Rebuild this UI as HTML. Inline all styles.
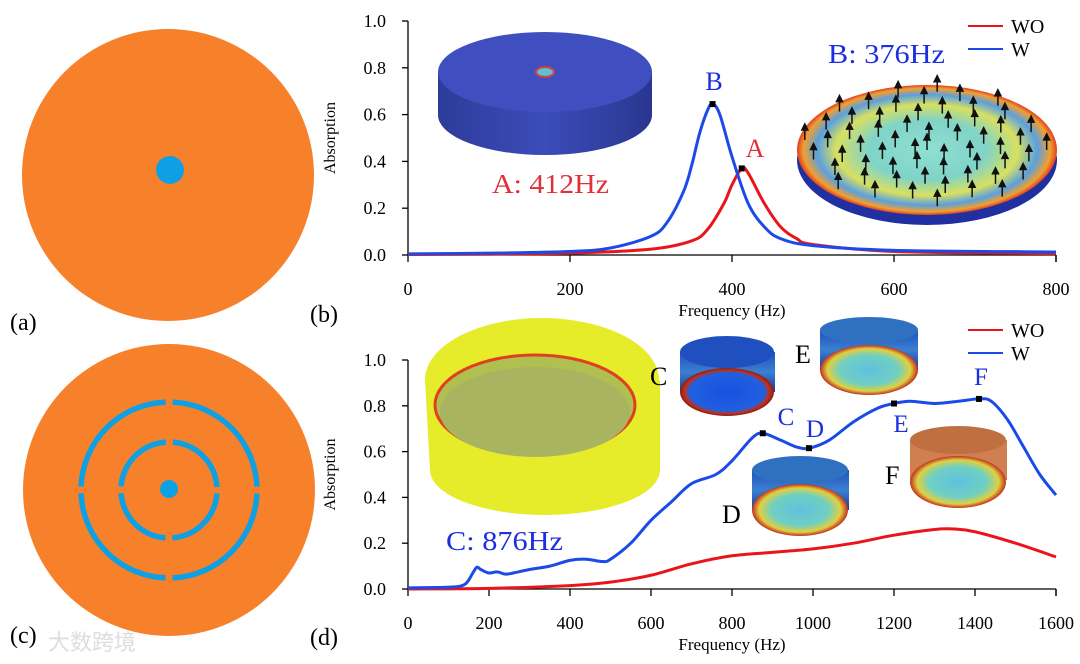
<!DOCTYPE html>
<html><head><meta charset="utf-8"><style>
html,body{margin:0;padding:0;background:#fff;}
svg{display:block;font-family:"Liberation Serif",serif;}
</style></head><body>
<svg id="fig" width="1080" height="664" viewBox="0 0 1080 664">
<defs>
<linearGradient id="cylSide" x1="0" x2="1"><stop offset="0" stop-color="#2d3c9a"/><stop offset="0.5" stop-color="#3a4cb8"/><stop offset="1" stop-color="#2a3690"/></linearGradient>
<radialGradient id="discTop"><stop offset="0" stop-color="#8fe0d0"/><stop offset="0.45" stop-color="#7fd3c8"/><stop offset="0.7" stop-color="#d8e060"/><stop offset="0.85" stop-color="#5aa0e0"/><stop offset="0.95" stop-color="#f0a030"/><stop offset="1" stop-color="#e04020"/></radialGradient>
<radialGradient id="smallTop"><stop offset="0" stop-color="#60c0e0"/><stop offset="0.6" stop-color="#70d0c0"/><stop offset="0.85" stop-color="#e0d040"/><stop offset="1" stop-color="#c03020"/></radialGradient>
<radialGradient id="smallTopC"><stop offset="0" stop-color="#1850e0"/><stop offset="0.8" stop-color="#2060e0"/><stop offset="0.9" stop-color="#c03020"/><stop offset="1" stop-color="#8a2010"/></radialGradient>
<linearGradient id="smallSide" x1="0" y1="0" x2="0" y2="1"><stop offset="0" stop-color="#2050c0"/><stop offset="0.5" stop-color="#3a80d0"/><stop offset="1" stop-color="#1a3aa0"/></linearGradient>
</defs>

<g>
<circle cx="168" cy="175" r="146" fill="#f7812b"/>
<circle cx="170" cy="170" r="14" fill="#0ea0e2"/>
<text x="10" y="330" font-size="24">(a)</text>
</g>
<g>
<circle cx="169" cy="490" r="146" fill="#f7812b"/>
<g fill="none" stroke="#0ea0e2" stroke-width="5.5">
<circle cx="169" cy="490" r="88" stroke-dasharray="131.2 7" stroke-dashoffset="-3.5"/>
<circle cx="169" cy="490" r="48" stroke-dasharray="68.4 7" stroke-dashoffset="-3.5"/>
</g>
<circle cx="169" cy="489" r="9" fill="#0ea0e2"/>
<text x="10" y="643" font-size="24">(c)</text>
<text x="48" y="650" font-size="22" fill="#ddd" font-family="'Liberation Sans','Noto Sans CJK SC',sans-serif">大数跨境</text>
</g>

<text x="310" y="322" font-size="24">(b)</text>
<text x="310" y="645" font-size="24">(d)</text>

<g>
<path d="M438,72 L438,115 A107,40 0 0 0 652,115 L652,72 Z" fill="url(#cylSide)"/>
<ellipse cx="545" cy="72" rx="107" ry="40" fill="#3f4fc0"/>
<ellipse cx="545" cy="72" rx="9" ry="5" fill="#60c0d0" stroke="#d04040" stroke-width="2"/>
</g>
<g>
<ellipse cx="927" cy="160" rx="130" ry="65" fill="#2030a0"/>
<ellipse cx="927" cy="150" rx="130" ry="65" fill="url(#discTop)"/>
<g stroke="#111" stroke-width="1.5" fill="#111" id="arrows"></g>
</g>

<g>
<path d="M425,380 L430,470 A115,45 0 0 0 660,470 L660,380 Z" fill="#e6ec2a"/>
<ellipse cx="542" cy="380" rx="117" ry="62" fill="#e6ec2a"/>
<ellipse cx="535" cy="405" rx="100" ry="50" fill="#b0c050" stroke="#e04020" stroke-width="3"/>
<ellipse cx="535" cy="412" rx="95" ry="45" fill="#a8b460"/>
</g>
<g>
<rect x="680" y="352" width="95" height="40" fill="url(#smallSide)"/><ellipse cx="727" cy="352" rx="47" ry="16" fill="#2050c0"/><ellipse cx="727" cy="392" rx="47" ry="24" fill="url(#smallTopC)"/></g>
<g>
<rect x="820" y="330" width="98" height="40" fill="url(#smallSide)"/><ellipse cx="869" cy="330" rx="49" ry="13" fill="#3070c0"/><ellipse cx="869" cy="370" rx="49" ry="25" fill="url(#smallTop)"/></g>
<g>
<rect x="752" y="470" width="97" height="40" fill="url(#smallSide)"/><ellipse cx="800" cy="470" rx="48" ry="14" fill="#3070c0"/><ellipse cx="800" cy="510" rx="48" ry="26" fill="url(#smallTop)"/></g>
<g>
<rect x="910" y="440" width="97" height="40" fill="#d08050"/><ellipse cx="958" cy="440" rx="48" ry="14" fill="#c07040"/><ellipse cx="958" cy="482" rx="48" ry="26" fill="url(#smallTop)"/></g>

<g id="charts"></g>
</svg>
<script>
// ---- chart (b) data ----
const topFreqW = [0,100,200,250,300,320,340,350,360,370,376,385,400,420,440,460,500,600,800];
const topW     = [0.005,0.008,0.015,0.03,0.08,0.14,0.27,0.38,0.52,0.62,0.645,0.60,0.42,0.22,0.12,0.07,0.04,0.02,0.013];
const topFreqWO = [0,100,200,300,350,370,390,400,412,420,440,460,480,500,600,800];
const topWO     = [0.002,0.004,0.008,0.025,0.06,0.11,0.22,0.30,0.37,0.35,0.22,0.12,0.07,0.045,0.015,0.006];
const topXTicks = [0,200,400,600,800];
const topYTicks = ["0.0","0.2","0.4","0.6","0.8","1.0"];
// ---- chart (d) data ----
const botFreqW = [0,100,140,160,170,180,200,220,240,260,300,350,400,440,480,500,550,600,650,700,760,800,850,876,920,960,990,1040,1100,1160,1200,1240,1300,1360,1410,1440,1480,1520,1560,1600];
const botW     = [0.005,0.008,0.02,0.07,0.095,0.085,0.07,0.075,0.065,0.07,0.085,0.10,0.125,0.13,0.12,0.13,0.20,0.30,0.38,0.46,0.50,0.56,0.66,0.68,0.65,0.62,0.615,0.65,0.73,0.79,0.81,0.82,0.81,0.82,0.83,0.82,0.74,0.62,0.50,0.41];
const botFreqWO = [0,200,400,500,600,700,800,900,1000,1100,1200,1300,1350,1400,1500,1600];
const botWO     = [0,0.003,0.015,0.03,0.06,0.11,0.145,0.16,0.175,0.20,0.235,0.26,0.262,0.25,0.20,0.14];
const botXTicks = [0,200,400,600,800,1000,1200,1400,1600];
const botYTicks = ["0.0","0.2","0.4","0.6","0.8","1.0"];
const botMarkers = [876,990,1200,1410];
const botMarkerLabels = ["C","D","E","F"];

const NS="http://www.w3.org/2000/svg";
const root=document.getElementById('charts');
function mk(tag,attrs,parent){const e=document.createElementNS(NS,tag);for(const k in attrs)e.setAttribute(k,attrs[k]);(parent||root).appendChild(e);return e;}
function smooth(pts){let d="M"+pts[0][0]+","+pts[0][1];for(let i=0;i<pts.length-1;i++){const p0=pts[Math.max(0,i-1)],p1=pts[i],p2=pts[i+1],p3=pts[Math.min(pts.length-1,i+2)];const c1=[p1[0]+(p2[0]-p0[0])/6,p1[1]+(p2[1]-p0[1])/6],c2=[p2[0]-(p3[0]-p1[0])/6,p2[1]-(p3[1]-p1[1])/6];d+=`C${c1[0]},${c1[1]} ${c2[0]},${c2[1]} ${p2[0]},${p2[1]}`;}return d;}

function chart(name,x0,x1,xmax,y0,y1,xticks,yticks,series,legendY){
  const g=mk('g',{});
  
  
  const sx=v=>x0+(x1-x0)*v/xmax, sy=v=>y0-(y0-y1)*v;
  const ax=mk('path',{d:`M${x0},${y1} L${x0},${y0} L${x1},${y0} M${x1},${y0} L${x1},${y0+7}`,stroke:'#000','stroke-width':1.3,fill:'none'},g);
  
  
  xticks.forEach(t=>{
    mk('line',{x1:sx(t),x2:sx(t),y1:y0,y2:y0+7,stroke:'#000','stroke-width':1.3},g);
    const tx=mk('text',{x:sx(t),y:y0+40,'font-size':18,'text-anchor':'middle'},g);tx.textContent=t;
    
    
  });
  yticks.forEach(t=>{
    const v=parseFloat(t);
    mk('line',{x1:x0-6,x2:x0,y1:sy(v),y2:sy(v),stroke:'#000','stroke-width':1.3},g);
    const tx=mk('text',{x:x0-22,y:sy(v)+6,'font-size':18,'text-anchor':'end'},g);tx.textContent=t;
    
    
  });
  const xt=mk('text',{x:(x0+x1)/2,y:y0+61,'font-size':17,'text-anchor':'middle'},g);xt.textContent='Frequency (Hz)';
  
  
  const yt=mk('text',{x:0,y:0,'font-size':16,'text-anchor':'middle',transform:`translate(${x0-73},${(y0+y1)/2}) rotate(-90)`},g);yt.textContent='Absorption';
  
  
  series.forEach(s=>{
    const p=mk('path',{d:smooth(s.f.map((f,i)=>[sx(f),sy(s.v[i])])),stroke:s.c,'stroke-width':3,fill:'none'},g);
    
    
  });
  series.forEach((s,i)=>{
    const ly=legendY+i*23;
    const l=mk('line',{x1:968,x2:1003,y1:ly,y2:ly,stroke:s.c,'stroke-width':2},g);
    
    
    const t=mk('text',{x:1011,y:ly+7,'font-size':20},g);t.textContent=s.n;
    
    
  });
  return {sx,sy,g};
}
function interp(fs,vs,f){for(let i=0;i<fs.length-1;i++){if(f>=fs[i]&&f<=fs[i+1])return vs[i]+(vs[i+1]-vs[i])*(f-fs[i])/(fs[i+1]-fs[i]);}return vs[vs.length-1];}

const A=chart('chart-b',408,1056,800,255,21,topXTicks,topYTicks,[{n:'WO',c:'#e8161c',f:topFreqWO,v:topWO},{n:'W',c:'#1c4ae8',f:topFreqW,v:topW}],26);
[[376,topFreqW,topW,'B','#1c2ee0',714,90],[412,topFreqWO,topWO,'A','#e0303a',755,157]].forEach(m=>{
  const x=A.sx(m[0]),y=A.sy(interp(m[1],m[2],m[0]));
  const r=mk('rect',{x:x-3,y:y-3,width:6,height:6,fill:'#000'},A.g);
  
  
  const t=mk('text',{x:m[5],y:m[6],'font-size':26,fill:m[4],'text-anchor':'middle'},A.g);t.textContent=m[3];
  
  
});
const B=chart('chart-d',408,1056,1600,589,360,botXTicks,botYTicks,[{n:'WO',c:'#e8161c',f:botFreqWO,v:botWO},{n:'W',c:'#1c4ae8',f:botFreqW,v:botW}],330);
const labelPos=[[786,425],[815,437],[901,432],[981,385]];
botMarkers.forEach((f,i)=>{
  const x=B.sx(f),y=B.sy(interp(botFreqW,botW,f));
  const r=mk('rect',{x:x-3,y:y-3,width:6,height:6,fill:'#000'},B.g);
  
  
  const t=mk('text',{x:labelPos[i][0],y:labelPos[i][1],'font-size':25,fill:'#1c2ee0','text-anchor':'middle'},B.g);t.textContent=botMarkerLabels[i];
  
  
});
[[492,193,'A: 412Hz','#e0303a'],[828,63,'B: 376Hz','#1c2ee0'],[446,550,'C: 876Hz','#1c2ee0']].forEach(a=>{
  const t=mk('text',{x:a[0],y:a[1],'font-size':27,fill:a[3],textLength:117,lengthAdjust:'spacingAndGlyphs'});t.textContent=a[2];
  
  
});
[[650,385,'C'],[795,363,'E'],[722,523,'D'],[885,484,'F']].forEach(a=>{
  const t=mk('text',{x:a[0],y:a[1],'font-size':26,fill:'#000'});t.textContent=a[2];
  
  
});
const ar=document.getElementById('arrows');
for(let k=0;k<60;k++){const ang=k*2.399,rr=Math.sqrt(k/60);const x=927+125*rr*Math.cos(ang),y=150+60*rr*Math.sin(ang);
  mk('line',{x1:x,y1:y,x2:x,y2:y-12},ar);mk('path',{d:`M${x-3},${y-10} L${x},${y-16} L${x+3},${y-10}Z`},ar);}
</script>
</body></html>
